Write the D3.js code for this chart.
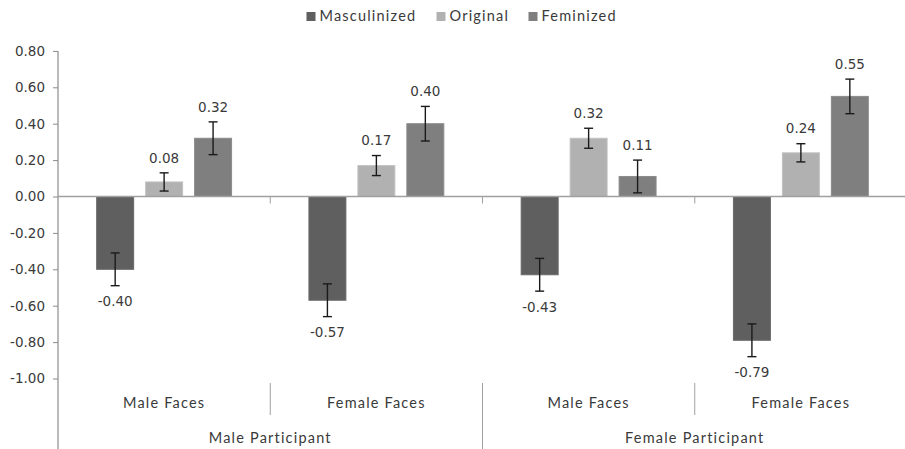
<!DOCTYPE html>
<html>
<head>
<meta charset="utf-8">
<script src="https://cdn.jsdelivr.net/npm/d3@7"></script>
<style>
  html, body { margin: 0; padding: 0; background: #fff; }
  svg { display: block; }
</style>
</head>
<body>
<svg id="chart" width="905" height="449"></svg>
<script>
// Face categories nested under participant groups
const participants = ["Male Participant", "Female Participant"];
const faces = ["Male Faces", "Female Faces"];
const series = ["Masculinized", "Original", "Feminized"];
const seriesColors = ["#5f5f5f", "#b1b1b1", "#7f7f7f"];

// Mean values per face category (MP/MF, MP/FF, FP/MF, FP/FF)
const masculinized = [-0.40, -0.57, -0.43, -0.79];
const original = [0.08, 0.17, 0.32, 0.24];
const feminized = [0.32, 0.40, 0.11, 0.55];

// Standard error per bar
const masculinizedErr = [0.09, 0.09, 0.09, 0.09];
const originalErr = [0.05, 0.055, 0.055, 0.05];
const feminizedErr = [0.09, 0.095, 0.09, 0.095];

const yTicks = [-1.0, -0.8, -0.6, -0.4, -0.2, 0.0, 0.2, 0.4, 0.6, 0.8];

const seriesValues = [masculinized, original, feminized];
const seriesErrors = [masculinizedErr, originalErr, feminizedErr];

const categories = [];
participants.forEach((p, pi) => faces.forEach((f, fi) => categories.push({ id: pi * 2 + fi, participant: p, face: f })));

const svg = d3.select("#chart");
const plotLeft = 58, plotRight = 907, plotTop = 50.9, plotBottom = 378.5;

const y = d3.scaleLinear().domain([-1.0, 0.8]).range([plotBottom, plotTop]);
const x0 = d3.scaleBand().domain(categories.map(c => c.id)).range([plotLeft, plotRight]).paddingInner(0).paddingOuter(0);
const x1 = d3.scaleBand().domain(series).range([0, x0.bandwidth()]).paddingInner(0.245).paddingOuter(0.79);
const xP = d3.scaleBand().domain(participants).range([plotLeft, plotRight]);

const numFont = "DejaVu Sans, Verdana, sans-serif";
const txtFont = "Lato, 'Open Sans', sans-serif";
const textColor = "#3a3a3a";
const axisColor = "#8c8c8c";

// Legend
const legendX = [306.5, 436.5, 528.5];
const legend = svg.append("g");
series.forEach((s, i) => {
  const g = legend.append("g").attr("transform", `translate(${legendX[i]},12)`);
  g.append("rect").attr("width", 9).attr("height", 9).attr("fill", seriesColors[i]);
  g.append("text").attr("x", 13).attr("y", 9)
    .attr("font-family", txtFont).attr("font-size", 14.5).attr("letter-spacing", 1.2)
    .attr("fill", textColor).text(s);
});

// Y axis
const yAxis = svg.append("g").attr("transform", `translate(${plotLeft},0)`)
  .call(d3.axisLeft(y).tickValues(yTicks).tickSize(5).tickSizeOuter(0).tickFormat(d => d.toFixed(2)));
yAxis.select(".domain").remove();
yAxis.selectAll(".tick line").attr("stroke", axisColor);
yAxis.selectAll(".tick text").attr("font-family", numFont).attr("font-size", 13.5)
  .attr("fill", textColor).attr("x", -13);
svg.append("line").attr("x1", plotLeft).attr("x2", plotLeft).attr("y1", plotTop).attr("y2", 449)
  .attr("stroke", axisColor).attr("stroke-width", 1.2);

// Bars
const barG = svg.append("g");
categories.forEach(c => {
  series.forEach((s, si) => {
    const v = seriesValues[si][c.id];
    barG.append("rect")
      .attr("x", x0(c.id) + x1(s))
      .attr("y", y(Math.max(0, v)))
      .attr("width", x1.bandwidth())
      .attr("height", Math.abs(y(v) - y(0)))
      .attr("fill", seriesColors[si])
      .attr("stroke", d3.color(seriesColors[si]).brighter(0.25))
      .attr("stroke-width", 1);
  });
});

// Zero line with category ticks
svg.append("line").attr("x1", plotLeft).attr("x2", 905).attr("y1", y(0)).attr("y2", y(0))
  .attr("stroke", "#a0a0a0").attr("stroke-width", 1.3);
categories.slice(1).forEach(c => {
  svg.append("line").attr("x1", x0(c.id)).attr("x2", x0(c.id))
    .attr("y1", y(0)).attr("y2", y(0) + 7).attr("stroke", "#a0a0a0");
});

// Error bars and value labels
const errG = svg.append("g");
categories.forEach(c => {
  series.forEach((s, si) => {
    const v = seriesValues[si][c.id];
    const e = seriesErrors[si][c.id];
    const cx = x0(c.id) + x1(s) + x1.bandwidth() / 2;
    errG.append("line").attr("x1", cx).attr("x2", cx).attr("y1", y(v + e)).attr("y2", y(v - e))
      .attr("stroke", "#1a1a1a").attr("stroke-width", 1.4);
    [v + e, v - e].forEach(t => {
      errG.append("line").attr("x1", cx - 4.5).attr("x2", cx + 4.5).attr("y1", y(t)).attr("y2", y(t))
        .attr("stroke", "#1a1a1a").attr("stroke-width", 1.4);
    });
    const ly = v >= 0 ? y(v + e) - 15 : y(v - e) + 16;
    errG.append("text").attr("x", cx).attr("y", ly).attr("dy", "0.35em")
      .attr("text-anchor", "middle").attr("font-family", numFont).attr("font-size", 13.5)
      .attr("fill", textColor).text(v.toFixed(2));
  });
});

// Multi-level category labels
categories.forEach(c => {
  svg.append("text").attr("x", x0(c.id) + x0.bandwidth() / 2).attr("y", 403).attr("dy", "0.35em")
    .attr("text-anchor", "middle").attr("font-family", txtFont).attr("font-size", 14.5)
    .attr("letter-spacing", 1.2).attr("fill", textColor).text(c.face);
  if (c.id % 2 === 1) {
    svg.append("line").attr("x1", x0(c.id)).attr("x2", x0(c.id)).attr("y1", 383).attr("y2", 415)
      .attr("stroke", "#a0a0a0");
  }
});
participants.forEach((p, i) => {
  svg.append("text").attr("x", xP(p) + xP.bandwidth() / 2).attr("y", 438).attr("dy", "0.35em")
    .attr("text-anchor", "middle").attr("font-family", txtFont).attr("font-size", 14.5)
    .attr("letter-spacing", 1.2).attr("fill", textColor).text(p);
  if (i > 0) {
    svg.append("line").attr("x1", xP(p)).attr("x2", xP(p)).attr("y1", 383).attr("y2", 449)
      .attr("stroke", "#a0a0a0");
  }
});
</script>
</body>
</html>
